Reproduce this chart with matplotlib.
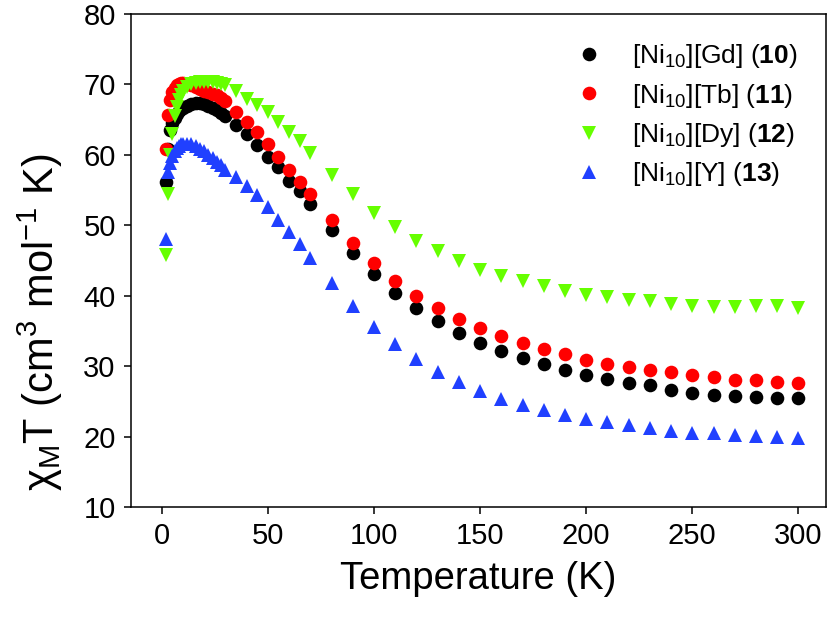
import matplotlib
matplotlib.use("Agg")
import matplotlib.pyplot as plt

plt.rcParams['font.family'] = ['Liberation Sans', 'DejaVu Sans']
plt.rcParams['mathtext.fontset'] = 'custom'
plt.rcParams['mathtext.rm'] = 'Liberation Sans'
plt.rcParams['mathtext.it'] = 'Liberation Sans:italic'
plt.rcParams['mathtext.bf'] = 'Liberation Sans:bold'

# Temperatures (K)
T = [2, 3, 4, 5, 6, 7, 8, 9, 10, 12, 14, 16, 18, 20, 22, 24, 26, 28, 30,
     35, 40, 45, 50, 55, 60, 65, 70,
     80, 90, 100, 110, 120, 130, 140, 150, 160, 170, 180, 190, 200,
     210, 220, 230, 240, 250, 260, 270, 280, 290, 300]

gd = [56.2, 60.8, 63.5, 64.5, 65.3, 65.8, 66.2, 66.5, 66.7, 67.0, 67.2, 67.3, 67.3, 67.2,
      67.0, 66.7, 66.4, 66.0, 65.5,
      64.2, 63.0, 61.4, 59.7, 58.3, 56.3, 54.8, 53.0,
      49.4, 46.0, 43.1, 40.4, 38.2, 36.4, 34.75, 33.3, 32.2, 31.2, 30.3, 29.5, 28.8,
      28.2, 27.65, 27.3, 26.6, 26.15, 25.9, 25.7, 25.6, 25.5, 25.5]

tb = [60.9, 65.7, 67.8, 68.9, 69.5, 69.9, 70.1, 70.2, 70.2, 70.1, 69.9, 69.6, 69.3, 69.1,
      68.9, 68.7, 68.5, 68.1, 67.6,
      66.1, 64.7, 63.3, 61.6, 59.7, 57.9, 56.2, 54.4,
      50.75, 47.5, 44.6, 42.1, 40.0, 38.2, 36.7, 35.4, 34.3, 33.3, 32.5, 31.7, 30.9,
      30.3, 29.9, 29.5, 29.2, 28.7, 28.5, 28.0, 28.0, 27.75, 27.6]

dy = [45.8, 54.5, 60.0, 63.0, 65.5, 66.8, 67.8, 68.5, 69.0, 69.7, 70.0, 70.2, 70.3, 70.3,
      70.3, 70.3, 70.2, 70.1, 69.9,
      69.0, 68.0, 67.1, 66.1, 64.7, 63.3, 61.9, 60.2,
      57.1, 54.5, 51.8, 49.7, 47.8, 46.3, 45.0, 43.7, 42.8, 42.1, 41.4, 40.7, 40.1,
      39.8, 39.4, 39.2, 38.8, 38.5, 38.4, 38.4, 38.5, 38.6, 38.3]

y_ = [48.1, 57.6, 58.8, 59.8, 60.5, 61.0, 61.3, 61.5, 61.6, 61.6, 61.5, 61.2, 60.9, 60.5,
      60.0, 59.5, 59.0, 58.5, 57.9,
      56.9, 55.6, 54.3, 52.6, 50.75, 49.1, 47.3, 45.3,
      41.8, 38.5, 35.6, 33.1, 31.0, 29.2, 27.75, 26.5, 25.4, 24.5, 23.8, 23.1, 22.45,
      22.0, 21.6, 21.2, 20.8, 20.55, 20.45, 20.2, 20.1, 20.0, 19.75]

labels = [r'[Ni$_{\mathregular{10}}$][Gd] ($\mathbf{10}$)',
          r'[Ni$_{\mathregular{10}}$][Tb] ($\mathbf{11}$)',
          r'[Ni$_{\mathregular{10}}$][Dy] ($\mathbf{12}$)',
          r'[Ni$_{\mathregular{10}}$][Y] ($\mathbf{13}$)']

xticks = [0, 50, 100, 150, 200, 250, 300]
yticks = [10, 20, 30, 40, 50, 60, 70, 80]

fig = plt.figure(figsize=(8.34, 6.24), dpi=100)
ax = fig.add_axes([131/834, 1-507/624, (826-131)/834, (507-14)/624])

series = [(gd, 'o', 'black'), (tb, 'o', '#ff0000'), (dy, 'v', '#66ff00'), (y_, '^', '#2040ff')]
for (vals, m, c), lab in zip(series, labels):
    ax.plot(T, vals, linestyle='none', marker=m, color=c, markersize=9.8,
            markeredgewidth=0, label=lab)

ax.set_xlim(-14.5, 313)
ax.set_ylim(10, 80)
ax.set_xticks(xticks)
ax.set_yticks(yticks)
ax.tick_params(axis='both', direction='out', length=5, width=1.1, labelsize=21,
               top=False, right=False, pad=6)
for s in ax.spines.values():
    s.set_linewidth(1.1)

ax.set_xlabel('Temperature (K)', fontsize=27.5, labelpad=8)
fig.text(40/834, 1-322/624,
         r'χ$_{\mathregular{M}}$T (cm$^{\mathregular{3}}$ mol$^{\mathregular{-1}}$ K)',
         fontsize=30, rotation=90, ha='center', va='center')

leg = ax.legend(loc='upper right', bbox_to_anchor=(0.985, 0.98), frameon=False,
                fontsize=19, handlelength=1.0, handletextpad=1.1, labelspacing=0.43,
                borderpad=0.2)

fig.savefig('out.png', dpi=100)
